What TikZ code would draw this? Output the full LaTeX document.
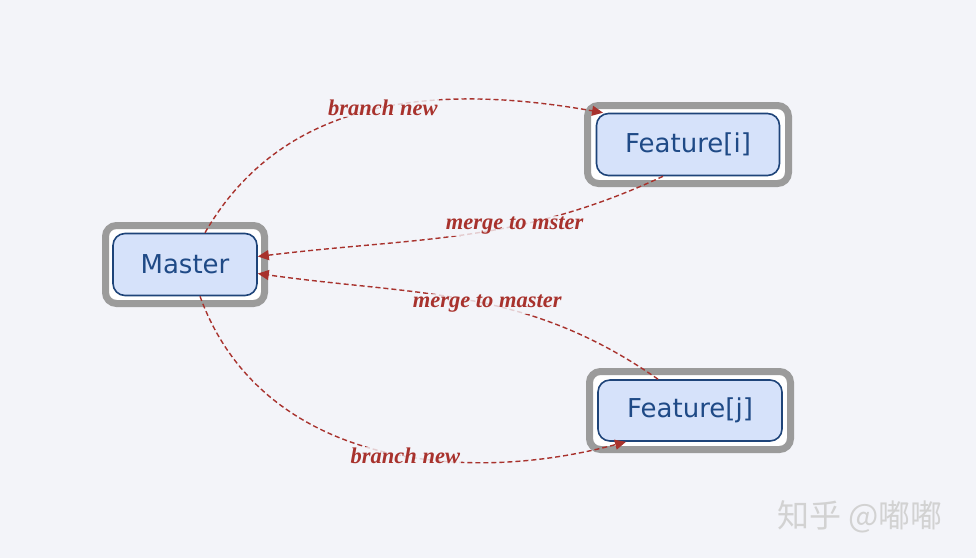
\documentclass[tikz,border=0pt]{standalone}
\usepackage{fontspec}
\setmainfont{DejaVu Sans}
\newfontfamily\labelfont{Liberation Serif}
\newfontfamily\cjkfont{Noto Sans CJK SC}
\usetikzlibrary{arrows.meta}
\definecolor{bgcol}{HTML}{F3F4F9}
\definecolor{framegray}{HTML}{9B9B9B}
\definecolor{boxfill}{HTML}{D6E2FA}
\definecolor{boxedge}{HTML}{1E4479}
\definecolor{boxtext}{HTML}{1F4A86}
\definecolor{flowred}{HTML}{A8322D}
\tikzset{
  frame/.style={draw=framegray, line width=7, fill=white, rounded corners=11, inner sep=0},
  box/.style={draw=boxedge, line width=1.6, fill=boxfill, rounded corners=12, text=boxtext,
    font=\fontsize{26}{30}\selectfont, inner sep=0},
  flow/.style={draw=flowred, line width=1.4, dash pattern=on 5pt off 3pt,
    -{Triangle[length=11,width=10]}},
  flowlabel/.style={font=\labelfont\bfseries\itshape\fontsize{22.5}{26}\selectfont, text=flowred,
    fill=bgcol, fill opacity=0.8, text opacity=1, inner sep=1}
}
\begin{document}
\begin{tikzpicture}[x=1pt,y=1pt]
    \fill[bgcol] (0,0) rectangle (976,-558);% page
    \useasboundingbox (0,0) rectangle (976,-558);

    \coordinate (MasterPos)   at (185,-264.5);
    \coordinate (FeatureIPos) at (688,-144.5);
    \coordinate (FeatureJPos) at (690,-410.5);

    \node[frame, minimum width=159, minimum height=78] (masterframe) at (MasterPos) {};
    \node[box, minimum width=144, minimum height=62] (master) at (MasterPos) {Master};

    \node[frame, minimum width=201, minimum height=78] (featureiframe) at (FeatureIPos) {};
    \node[box, minimum width=183, minimum height=62] (featurei) at (FeatureIPos) {Feature[i]};

    \node[frame, minimum width=201, minimum height=78] (featurejframe) at (FeatureJPos) {};
    \node[box, minimum width=184, minimum height=61] (featurej) at (FeatureJPos) {Feature[j]};

    \draw[flow] ([xshift=20]master.north) to[out=60,in=170]
        node[flowlabel,pos=0.52] {branch new} ([xshift=-85]featurei.north);% Draw branch i
    \draw[flow] ([xshift=-25]featurei.south) to[out=-155,in=7]
        node[flowlabel,pos=0.37] {merge to mster} ([yshift=8]master.east);% Draw merge i
    \draw[flow] ([xshift=-32]featurej.north) to[out=145,in=-8]
        node[flowlabel,pos=0.45] {merge to master} ([yshift=-9]master.east);% Draw merge j
    \draw[flow] ([xshift=15]master.south) to[out=-70,in=195]
        node[flowlabel,pos=0.57] {branch new} ([xshift=-64]featurej.south);% Draw branch j

    \node[font=\cjkfont\fontsize{32}{36}\selectfont, text=gray!35] (mark) at (860,-517) {知乎 @嘟嘟};
\end{tikzpicture}
\end{document}
